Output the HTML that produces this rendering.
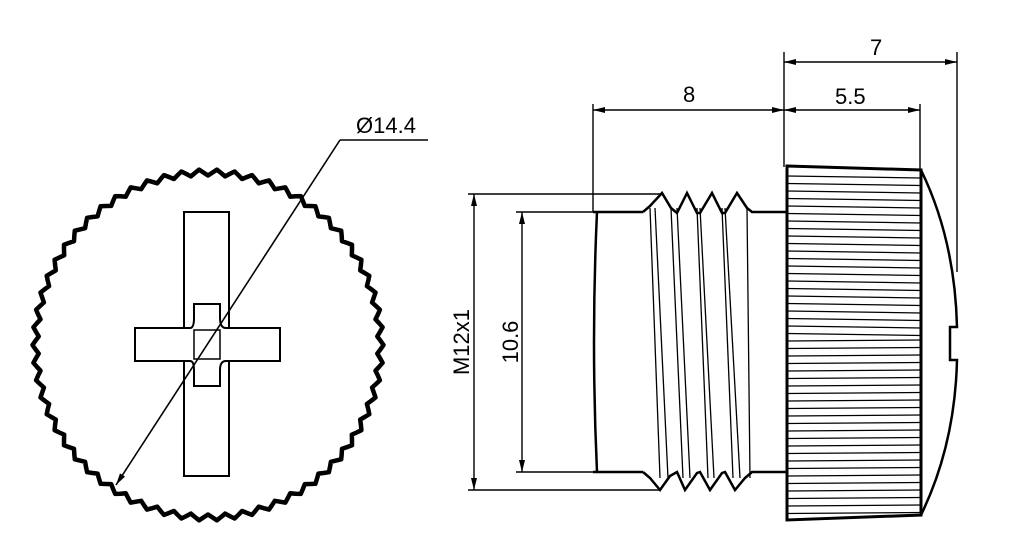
<!DOCTYPE html>
<html><head><style>body{margin:0;background:#fff}svg{display:block}text{font-family:"Liberation Sans",sans-serif;font-size:22px;fill:#000}</style></head>
<body>
<svg width="1016" height="543" viewBox="0 0 1016 543" xmlns="http://www.w3.org/2000/svg">
<defs><marker id="a" viewBox="0 0 12 6" refX="12" refY="3" markerWidth="12" markerHeight="6" orient="auto-start-reverse" markerUnits="userSpaceOnUse"><path d="M0,0L12,3L0,6z" fill="#000"/></marker></defs>
<g id="kn" fill="none" stroke="#000" stroke-width="4.5" stroke-linejoin="round"></g>
<g fill="none" stroke="#000" stroke-width="2">
<rect x="184" y="212" width="45" height="264"/>
<path d="M135,328H190Q194,328 194,318V304H220V318Q220,328 226,328H280V361H226Q220,361 220,370V386H194V370Q194,361 190,361H135Z" fill="#fff"/>
<rect x="194" y="330" width="26" height="29" stroke-width="1.5"/>
</g>
<g stroke="#000" stroke-width="1.6" fill="none">
<line x1="116" y1="485" x2="340" y2="140" marker-start="url(#a)"/>
<line x1="340" y1="140" x2="428" y2="140"/>
</g>
<text x="356" y="133">Ø14.4</text>
<g fill="none" stroke="#000" stroke-width="2.5">
<path d="M593,212H643M593,472H643"/>
<path d="M597,212Q591,342 597,472"/>
<path d="M643,212L650,206 662,193 671,208 677,213 687,193 697,213 700,213 712,193 722,213 725,213 737,193 747,208 752,212H787"/>
<path d="M643,472L650,478 660,490 670,476 677,472 685,490 697,473 700,472 710,490 722,473 725,472 735,490 745,478 752,472H787"/>
<path d="M787,166L921,170 921,515 787,520Z" stroke-width="3"/>
<path d="M921,170Q955,240 957,327H950V360H957Q955,445 921,515"/>
</g>
<g stroke="#000" stroke-width="1.3" id="thr"></g>
<g stroke="#000" stroke-width="1.3" id="knl"></g>
<g stroke="#000" stroke-width="1.4" fill="none">
<line x1="468" y1="194" x2="660" y2="194"/><line x1="468" y1="490" x2="660" y2="490"/>
<line x1="474" y1="194" x2="474" y2="490" marker-start="url(#a)" marker-end="url(#a)"/>
<line x1="516" y1="212" x2="593" y2="212"/><line x1="516" y1="472" x2="593" y2="472"/>
<line x1="522" y1="212" x2="522" y2="472" marker-start="url(#a)" marker-end="url(#a)"/>
<line x1="593" y1="104" x2="593" y2="212"/><line x1="784" y1="52" x2="784" y2="167"/>
<line x1="920" y1="104" x2="920" y2="170"/><line x1="957" y1="52" x2="957" y2="272"/>
<line x1="593" y1="110" x2="784" y2="110" marker-start="url(#a)" marker-end="url(#a)"/>
<line x1="784" y1="110" x2="920" y2="110" marker-start="url(#a)" marker-end="url(#a)"/>
<line x1="784" y1="62" x2="957" y2="62" marker-start="url(#a)" marker-end="url(#a)"/>
</g>
<text x="683" y="102">8</text><text x="835" y="104">5.5</text><text x="870" y="55">7</text>
<text transform="translate(469,342) rotate(-90)" text-anchor="middle">M12x1</text>
<text transform="translate(518,342) rotate(-90)" text-anchor="middle">10.6</text>
<script>
var ns="http://www.w3.org/2000/svg";
var cx=208,cy=345,n=62,p="";
for(var i=0;i<=n*4;i++){var t=i/(n*4)*Math.PI*2,r=172.5+3*Math.cos(i/4*Math.PI*2);p+=(i?"L":"M")+(cx+r*Math.cos(t)).toFixed(1)+","+(cy+r*Math.sin(t)).toFixed(1);}
var e=document.createElementNS(ns,"path");e.setAttribute("d",p+"Z");document.getElementById("kn").appendChild(e);
var g=document.getElementById("thr");
[[650,660],[655,668],[671,683],[677,690],[697,708],[700,714],[722,733],[725,740],[747,750]].forEach(function(a){var l=document.createElementNS(ns,"line");l.setAttribute("x1",a[0]);l.setAttribute("y1",208);l.setAttribute("x2",a[1]);l.setAttribute("y2",478);g.appendChild(l);});
var k=document.getElementById("knl");
for(var y=176;y<515;y+=7.5){var l=document.createElementNS(ns,"line");l.setAttribute("x1",787);l.setAttribute("y1",y);l.setAttribute("x2",921);l.setAttribute("y2",y+((y<340)?2:-1));k.appendChild(l);}
</script>
</svg>
</body></html>
